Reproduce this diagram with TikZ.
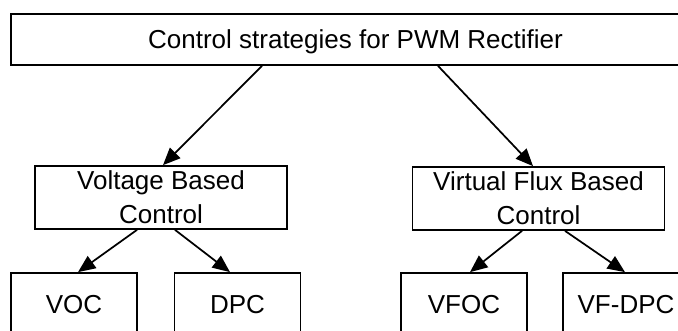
\documentclass[tikz,border=0pt]{standalone}
\usepackage{fontspec}
\setmainfont{Liberation Sans}
\usetikzlibrary{arrows.meta,calc}

\begin{document}
\begin{tikzpicture}[x=0.75pt, y=-0.75pt,
	box/.style={draw, line width=1.3pt, align=center, inner sep=0pt, text depth=0pt,
		font=\fontsize{19.5}{25.5}\selectfont},
	arr/.style={line width=1.3pt, -{Triangle[length=13pt, width=11pt]}}]
	\useasboundingbox (0,0) rectangle (678,331);
	
	% top level
	\node[box, minimum width=516.75pt, minimum height=38.25pt] (top) at (355.5, 39.5) {Control strategies for PWM Rectifier};
	
	% the two families
	\node[box, minimum width=189pt, minimum height=47.25pt] (volt) at (161, 197.5) {Voltage Based\\Control};
	\node[box, minimum width=189pt, minimum height=47.25pt] (vflux) at (538.5, 198.5) {Virtual Flux Based\\Control};
	
	% the methods
	\node[box, minimum width=94.5pt, minimum height=47.25pt] (voc) at (74, 304.5) {VOC};
	\node[box, minimum width=94.5pt, minimum height=47.25pt] (dpc) at (237.5, 304.5) {DPC};
	\node[box, minimum width=94.5pt, minimum height=47.25pt] (vfoc) at (464, 304.5) {VFOC};
	\node[box, minimum width=94.5pt, minimum height=47.25pt] (vfdpc) at (626, 304.5) {VF-DPC};
	
	\draw[arr] ($(top.south)+(-93.5,0)$) -- ($(volt.north)+(2,0)$);
	\draw[arr] ($(top.south)+(82.5,0)$) -- ($(vflux.north)+(-5.5,0)$);
	
	\draw[arr] ($(volt.south)+(-24,0)$) -- ($(voc.north)+(4,0)$);
	\draw[arr] ($(volt.south)+(14,0)$) -- ($(dpc.north)+(-7.5,0)$);
	\draw[arr] ($(vflux.south)+(-16.5,0)$) -- ($(vfoc.north)+(6,0)$);
	\draw[arr] ($(vflux.south)+(26.5,0)$) -- ($(vfdpc.north)+(-1,0)$);
\end{tikzpicture}
\end{document}
